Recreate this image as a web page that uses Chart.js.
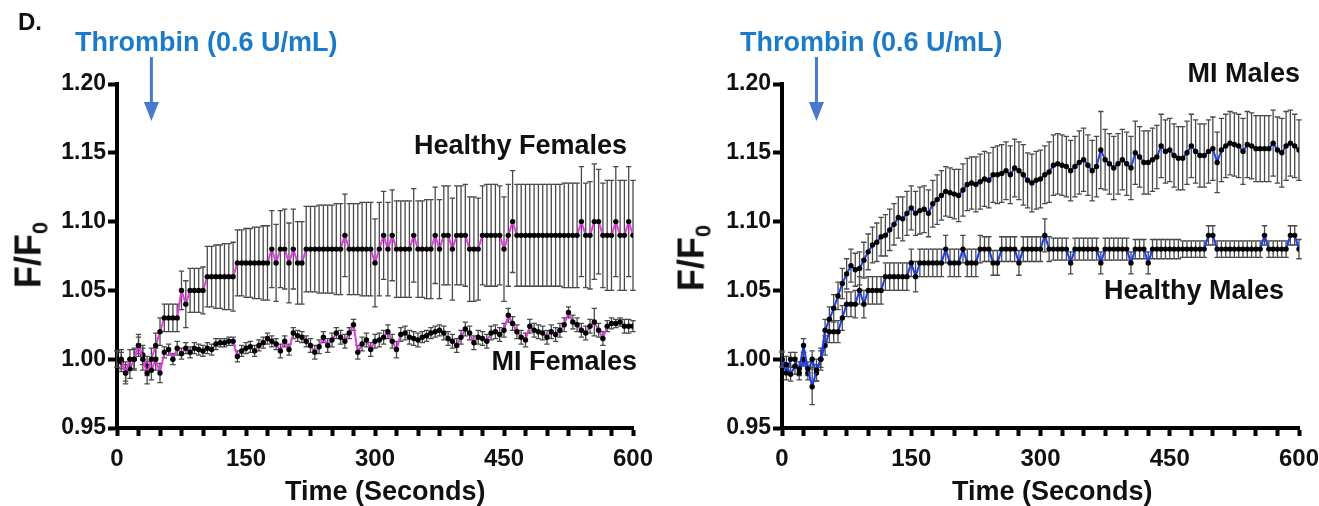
<!DOCTYPE html>
<html>
<head>
<meta charset="utf-8">
<title>Thrombin F/F0 time course</title>
<script src="https://cdn.jsdelivr.net/npm/chart.js@4.4.1/dist/chart.umd.min.js"></script>
<style>
  html, body { margin: 0; padding: 0; background: #fff; overflow: hidden; }
  body { width: 1319px; height: 506px; position: relative; font-family: "Liberation Sans", Arial, sans-serif; font-weight: bold; color: #111; }
  canvas { position: absolute; top: 0; }
  #left { left: 0; }
  #right { left: 660px; }
  .lbl { position: absolute; white-space: nowrap; line-height: 1; }
  .thrombin { color: #1c7bc9; font-size: 27px; }
  .series { font-size: 27px; }
  .xtitle { font-size: 27px; }
  .ytitle { font-size: 36px; transform: translate(-50%, -50%) rotate(-90deg); }
  .ytitle sub { font-size: 22px; vertical-align: -7px; }
</style>
</head>
<body>
<canvas id="left" width="660" height="506"></canvas>
<canvas id="right" width="659" height="506"></canvas>

<div class="lbl" style="left:18px; top:10px; font-size:24px;">D.</div>
<div class="lbl thrombin" style="left:75px; top:29px;">Thrombin (0.6 U/mL)</div>
<div class="lbl thrombin" style="left:740px; top:29px;">Thrombin (0.6 U/mL)</div>
<div class="lbl series" style="right:692px; top:132px;">Healthy Females</div>
<div class="lbl series" style="right:682px; top:348px;">MI Females</div>
<div class="lbl series" style="right:19px; top:60px;">MI Males</div>
<div class="lbl series" style="right:35px; top:277px;">Healthy Males</div>
<div class="lbl ytitle" style="left:31px; top:255px;">F/F<sub>0</sub></div>
<div class="lbl ytitle" style="left:694px; top:258px;">F/F<sub>0</sub></div>
<div class="lbl xtitle" style="left:285px; top:478px;">Time (Seconds)</div>
<div class="lbl xtitle" style="left:952px; top:478px;">Time (Seconds)</div>

<script>
// time points (s)
const times = [
  0, 5, 10, 15, 20, 25, 30, 35, 40, 45,
  50, 55, 60, 65, 70, 75, 80, 85, 90, 95,
  100, 105, 110, 115, 120, 125, 130, 135, 140, 145,
  150, 155, 160, 165, 170, 175, 180, 185, 190, 195,
  200, 205, 210, 215, 220, 225, 230, 235, 240, 245,
  250, 255, 260, 265, 270, 275, 280, 285, 290, 295,
  300, 305, 310, 315, 320, 325, 330, 335, 340, 345,
  350, 355, 360, 365, 370, 375, 380, 385, 390, 395,
  400, 405, 410, 415, 420, 425, 430, 435, 440, 445,
  450, 455, 460, 465, 470, 475, 480, 485, 490, 495,
  500, 505, 510, 515, 520, 525, 530, 535, 540, 545,
  550, 555, 560, 565, 570, 575, 580, 585, 590, 595,
  600
];

const xLabels = [0, 150, 300, 450, 600];
const thrombinAt = 40;

// females panel
const healthyFemales = [
  1.00, 1.00, 0.99, 1.00, 1.00, 1.01, 1.00, 0.99, 1.00, 1.01,
  1.02, 1.03, 1.03, 1.03, 1.03, 1.05, 1.04, 1.05, 1.05, 1.05,
  1.05, 1.06, 1.06, 1.06, 1.06, 1.06, 1.06, 1.06, 1.07, 1.07,
  1.07, 1.07, 1.07, 1.07, 1.07, 1.07, 1.08, 1.07, 1.08, 1.08,
  1.07, 1.08, 1.07, 1.07, 1.08, 1.08, 1.08, 1.08, 1.08, 1.08,
  1.08, 1.08, 1.08, 1.09, 1.08, 1.08, 1.08, 1.08, 1.08, 1.08,
  1.07, 1.08, 1.09, 1.08, 1.09, 1.08, 1.08, 1.08, 1.08, 1.09,
  1.08, 1.08, 1.08, 1.08, 1.09, 1.08, 1.09, 1.09, 1.08, 1.09,
  1.09, 1.09, 1.08, 1.08, 1.08, 1.09, 1.09, 1.09, 1.09, 1.09,
  1.08, 1.09, 1.10, 1.09, 1.09, 1.09, 1.09, 1.09, 1.09, 1.09,
  1.09, 1.09, 1.09, 1.09, 1.09, 1.09, 1.09, 1.09, 1.10, 1.09,
  1.09, 1.10, 1.10, 1.09, 1.09, 1.09, 1.10, 1.09, 1.09, 1.10,
  1.09
];
const healthyFemalesSem = [
  0.006, 0.007, 0.006, 0.007, 0.008, 0.008, 0.008, 0.008, 0.008, 0.009,
  0.010, 0.010, 0.010, 0.010, 0.010, 0.014, 0.017, 0.016, 0.016, 0.016,
  0.017, 0.022, 0.022, 0.023, 0.023, 0.024, 0.024, 0.025, 0.024, 0.024,
  0.025, 0.025, 0.026, 0.026, 0.027, 0.027, 0.028, 0.028, 0.028, 0.029,
  0.029, 0.029, 0.030, 0.030, 0.031, 0.031, 0.031, 0.032, 0.032, 0.032,
  0.032, 0.033, 0.033, 0.030, 0.033, 0.033, 0.033, 0.034, 0.034, 0.034,
  0.032, 0.034, 0.032, 0.034, 0.033, 0.035, 0.035, 0.035, 0.035, 0.034,
  0.035, 0.035, 0.036, 0.036, 0.035, 0.036, 0.036, 0.036, 0.037, 0.036,
  0.036, 0.037, 0.038, 0.038, 0.037, 0.036, 0.037, 0.037, 0.037, 0.036,
  0.038, 0.037, 0.037, 0.037, 0.037, 0.037, 0.037, 0.037, 0.037, 0.037,
  0.037, 0.037, 0.037, 0.037, 0.038, 0.038, 0.038, 0.038, 0.040, 0.038,
  0.039, 0.042, 0.038, 0.038, 0.040, 0.040, 0.040, 0.040, 0.040, 0.040,
  0.040
];
const miFemales = [
  1.000, 0.998, 0.990, 0.993, 1.000, 1.010, 1.003, 0.995, 0.992, 1.000,
  0.990, 1.005, 1.007, 1.000, 1.008, 1.004, 1.008, 1.005, 1.008, 1.007,
  1.006, 1.008, 1.007, 1.011, 1.012, 1.012, 1.013, 1.013, 1.002, 1.006,
  1.008, 1.009, 1.006, 1.010, 1.012, 1.015, 1.013, 1.011, 1.006, 1.013,
  1.007, 1.019, 1.017, 1.016, 1.013, 1.010, 1.005, 1.009, 1.016, 1.010,
  1.014, 1.019, 1.016, 1.013, 1.019, 1.025, 1.005, 1.011, 1.014, 1.007,
  1.013, 1.014, 1.016, 1.020, 1.013, 1.007, 1.018, 1.019, 1.016, 1.015,
  1.014, 1.016, 1.017, 1.019, 1.020, 1.021, 1.019, 1.015, 1.013, 1.010,
  1.016, 1.022, 1.019, 1.012, 1.016, 1.015, 1.013, 1.019, 1.020, 1.018,
  1.021, 1.032, 1.026, 1.020, 1.016, 1.014, 1.024, 1.021, 1.020, 1.019,
  1.016, 1.020, 1.018, 1.021, 1.025, 1.034, 1.027, 1.025, 1.021, 1.019,
  1.024, 1.027, 1.021, 1.015, 1.024, 1.026, 1.026, 1.027, 1.024, 1.024,
  1.024
];
const miFemalesSem = [
  0.006, 0.007, 0.008, 0.007, 0.007, 0.006, 0.007, 0.007, 0.007, 0.008,
  0.007, 0.004, 0.004, 0.004, 0.005, 0.004, 0.004, 0.004, 0.004, 0.004,
  0.004, 0.004, 0.004, 0.004, 0.003, 0.003, 0.003, 0.003, 0.004, 0.004,
  0.004, 0.004, 0.004, 0.004, 0.004, 0.004, 0.004, 0.004, 0.005, 0.004,
  0.004, 0.004, 0.004, 0.004, 0.004, 0.005, 0.005, 0.005, 0.004, 0.005,
  0.005, 0.004, 0.005, 0.005, 0.004, 0.004, 0.005, 0.005, 0.005, 0.005,
  0.005, 0.005, 0.005, 0.005, 0.005, 0.006, 0.005, 0.005, 0.005, 0.005,
  0.005, 0.004, 0.004, 0.004, 0.004, 0.004, 0.005, 0.005, 0.005, 0.005,
  0.005, 0.005, 0.005, 0.005, 0.005, 0.005, 0.005, 0.005, 0.005, 0.005,
  0.005, 0.005, 0.005, 0.005, 0.005, 0.005, 0.005, 0.005, 0.005, 0.005,
  0.005, 0.005, 0.005, 0.005, 0.005, 0.004, 0.005, 0.005, 0.005, 0.005,
  0.005, 0.010, 0.005, 0.005, 0.004, 0.004, 0.003, 0.003, 0.005, 0.005,
  0.004
];

// males panel
const miMales = [
  1.000, 0.996, 0.989, 0.995, 0.993, 1.010, 0.993, 0.980, 0.992, 1.000,
  1.021, 1.029, 1.037, 1.046, 1.055, 1.062, 1.068, 1.065, 1.066, 1.072,
  1.078, 1.083, 1.085, 1.089, 1.090, 1.094, 1.098, 1.103, 1.102, 1.106,
  1.110, 1.106, 1.108, 1.109, 1.106, 1.113, 1.116, 1.119, 1.122, 1.121,
  1.120, 1.119, 1.123, 1.127, 1.128, 1.127, 1.129, 1.131, 1.130, 1.134,
  1.134, 1.135, 1.137, 1.134, 1.139, 1.137, 1.134, 1.130, 1.128, 1.130,
  1.131, 1.134, 1.136, 1.141, 1.142, 1.141, 1.140, 1.137, 1.140, 1.143,
  1.145, 1.141, 1.137, 1.140, 1.152, 1.145, 1.142, 1.139, 1.142, 1.145,
  1.142, 1.139, 1.150, 1.147, 1.143, 1.143, 1.145, 1.147, 1.155, 1.151,
  1.152, 1.148, 1.146, 1.146, 1.150, 1.155, 1.151, 1.148, 1.148, 1.151,
  1.153, 1.143, 1.152, 1.155, 1.157, 1.156, 1.155, 1.151, 1.156, 1.155,
  1.153, 1.153, 1.153, 1.153, 1.157, 1.152, 1.150, 1.155, 1.157, 1.155,
  1.152
];
const miMalesSem = [
  0.006, 0.006, 0.005, 0.006, 0.005, 0.005, 0.005, 0.013, 0.008, 0.008,
  0.008, 0.009, 0.010, 0.010, 0.011, 0.011, 0.012, 0.012, 0.012, 0.013,
  0.013, 0.013, 0.014, 0.014, 0.015, 0.015, 0.015, 0.015, 0.016, 0.016,
  0.016, 0.016, 0.017, 0.017, 0.017, 0.017, 0.018, 0.018, 0.018, 0.018,
  0.018, 0.019, 0.019, 0.019, 0.019, 0.020, 0.020, 0.020, 0.020, 0.020,
  0.021, 0.021, 0.021, 0.021, 0.021, 0.021, 0.022, 0.020, 0.021, 0.021,
  0.021, 0.021, 0.022, 0.022, 0.022, 0.022, 0.022, 0.022, 0.022, 0.023,
  0.023, 0.022, 0.022, 0.022, 0.028, 0.022, 0.022, 0.023, 0.022, 0.022,
  0.023, 0.023, 0.023, 0.022, 0.023, 0.023, 0.023, 0.023, 0.023, 0.023,
  0.023, 0.023, 0.023, 0.023, 0.023, 0.023, 0.023, 0.023, 0.023, 0.023,
  0.023, 0.022, 0.023, 0.023, 0.023, 0.023, 0.023, 0.024, 0.024, 0.024,
  0.024, 0.024, 0.024, 0.024, 0.024, 0.024, 0.025, 0.025, 0.024, 0.023,
  0.022
];
const healthyMales = [
  1.00, 0.99, 1.00, 1.00, 0.99, 1.00, 0.99, 1.00, 0.99, 1.00,
  1.01, 1.02, 1.02, 1.02, 1.03, 1.04, 1.04, 1.04, 1.05, 1.04,
  1.05, 1.05, 1.05, 1.05, 1.06, 1.06, 1.06, 1.06, 1.06, 1.06,
  1.07, 1.06, 1.07, 1.07, 1.07, 1.07, 1.07, 1.07, 1.08, 1.07,
  1.07, 1.07, 1.08, 1.07, 1.07, 1.07, 1.08, 1.08, 1.08, 1.07,
  1.07, 1.08, 1.08, 1.08, 1.08, 1.07, 1.08, 1.08, 1.08, 1.08,
  1.08, 1.09, 1.08, 1.08, 1.08, 1.08, 1.08, 1.07, 1.08, 1.08,
  1.08, 1.08, 1.08, 1.08, 1.07, 1.08, 1.08, 1.08, 1.08, 1.08,
  1.08, 1.07, 1.08, 1.08, 1.08, 1.07, 1.08, 1.08, 1.08, 1.08,
  1.08, 1.08, 1.08, 1.08, 1.08, 1.08, 1.08, 1.08, 1.08, 1.09,
  1.09, 1.08, 1.08, 1.08, 1.08, 1.08, 1.08, 1.08, 1.08, 1.08,
  1.08, 1.08, 1.09, 1.08, 1.08, 1.08, 1.08, 1.08, 1.09, 1.09,
  1.08
];
const healthyMalesSem = [
  0.005, 0.005, 0.005, 0.005, 0.005, 0.005, 0.005, 0.006, 0.006, 0.006,
  0.007, 0.008, 0.008, 0.008, 0.009, 0.009, 0.009, 0.010, 0.010, 0.010,
  0.010, 0.010, 0.010, 0.010, 0.010, 0.010, 0.010, 0.010, 0.010, 0.010,
  0.010, 0.011, 0.010, 0.010, 0.010, 0.010, 0.010, 0.010, 0.010, 0.010,
  0.010, 0.010, 0.010, 0.010, 0.010, 0.010, 0.010, 0.009, 0.009, 0.009,
  0.009, 0.009, 0.009, 0.009, 0.009, 0.009, 0.009, 0.009, 0.009, 0.009,
  0.009, 0.012, 0.009, 0.008, 0.008, 0.008, 0.008, 0.008, 0.008, 0.008,
  0.008, 0.008, 0.008, 0.008, 0.008, 0.008, 0.008, 0.008, 0.008, 0.008,
  0.008, 0.008, 0.007, 0.007, 0.007, 0.008, 0.007, 0.007, 0.007, 0.007,
  0.007, 0.007, 0.007, 0.006, 0.006, 0.006, 0.006, 0.006, 0.006, 0.007,
  0.007, 0.006, 0.006, 0.006, 0.006, 0.006, 0.006, 0.006, 0.006, 0.006,
  0.006, 0.006, 0.007, 0.006, 0.006, 0.006, 0.006, 0.006, 0.007, 0.007,
  0.007
];

Chart.defaults.font.family = '"Liberation Sans", Arial, sans-serif';
Chart.defaults.font.weight = 'bold';
Chart.defaults.color = '#111';
Chart.defaults.animation = false;

function toPoints(vals) {
  return vals.map((v, i) => ({ x: times[i], y: v }));
}

// draws the sem bars under the lines, using the chart scales
function errorBarPlugin(semList) {
  return {
    id: 'errorBars',
    beforeDatasetsDraw(chart) {
      const { ctx, scales: { x, y } } = chart;
      ctx.save();
      ctx.strokeStyle = '#4a4a4a';
      ctx.lineWidth = 1.3;
      chart.data.datasets.forEach((ds, d) => {
        const sem = semList[d];
        ds.data.forEach((p, i) => {
          const px = x.getPixelForValue(p.x);
          const top = y.getPixelForValue(p.y + sem[i]);
          const bot = y.getPixelForValue(p.y - sem[i]);
          ctx.beginPath();
          ctx.moveTo(px, top); ctx.lineTo(px, bot);
          ctx.moveTo(px - 2.7, top); ctx.lineTo(px + 2.7, top);
          ctx.moveTo(px - 2.7, bot); ctx.lineTo(px + 2.7, bot);
          ctx.stroke();
        });
      });
      ctx.restore();
    }
  };
}

// blue arrow marking thrombin addition
const arrowPlugin = {
  id: 'thrombinArrow',
  afterDraw(chart) {
    const ctx = chart.ctx;
    const px = chart.scales.x.getPixelForValue(thrombinAt);
    ctx.save();
    ctx.strokeStyle = '#4a78cc';
    ctx.fillStyle = '#4a78cc';
    ctx.lineWidth = 3;
    ctx.beginPath();
    ctx.moveTo(px, 57);
    ctx.lineTo(px, 104);
    ctx.stroke();
    ctx.beginPath();
    ctx.moveTo(px - 7.5, 102);
    ctx.lineTo(px + 7.5, 102);
    ctx.lineTo(px, 121);
    ctx.closePath();
    ctx.fill();
    ctx.restore();
  }
};

function makePanel(id, yWidth, padRight, series, lineColor) {
  return new Chart(document.getElementById(id), {
    type: 'line',
    data: {
      datasets: series.map(s => ({
        data: toPoints(s.values),
        borderColor: lineColor,
        borderWidth: 2,
        pointRadius: 2.7,
        pointBackgroundColor: '#000',
        pointBorderWidth: 0,
        tension: 0
      }))
    },
    options: {
      responsive: false,
      devicePixelRatio: 1,
      layout: { padding: { top: 84, right: padRight, left: 0, bottom: 0 } },
      plugins: { legend: { display: false }, tooltip: { enabled: false } },
      scales: {
        x: {
          type: 'linear',
          min: 0,
          max: 600,
          border: { color: '#000', width: 4 },
          grid: { drawOnChartArea: false, tickLength: 8, tickWidth: 4, tickColor: '#000' },
          ticks: {
            stepSize: 25,
            autoSkip: false,
            maxRotation: 0,
            padding: 9,
            font: { size: 24 },
            callback: v => (xLabels.includes(v) ? String(v) : '')
          },
          afterFit(scale) {
            scale.height = 78;
            scale.paddingLeft = 0;
            scale.paddingRight = 0;
          }
        },
        y: {
          min: 0.95,
          max: 1.2,
          border: { color: '#000', width: 4 },
          grid: { drawOnChartArea: false, tickLength: 9, tickWidth: 4, tickColor: '#000' },
          ticks: {
            stepSize: 0.05,
            padding: 2,
            font: { size: 23 },
            callback: v => Number(v).toFixed(2)
          },
          afterFit(scale) {
            scale.width = yWidth;
            scale.paddingTop = 0;
            scale.paddingBottom = 0;
          }
        }
      }
    },
    plugins: [errorBarPlugin(series.map(s => s.sem)), arrowPlugin]
  });
}

makePanel('left', 117, 27, [
  { values: healthyFemales, sem: healthyFemalesSem },
  { values: miFemales, sem: miFemalesSem }
], '#e03ee0');

makePanel('right', 122, 20, [
  { values: miMales, sem: miMalesSem },
  { values: healthyMales, sem: healthyMalesSem }
], '#1f3fe6');
</script>
</body>
</html>
